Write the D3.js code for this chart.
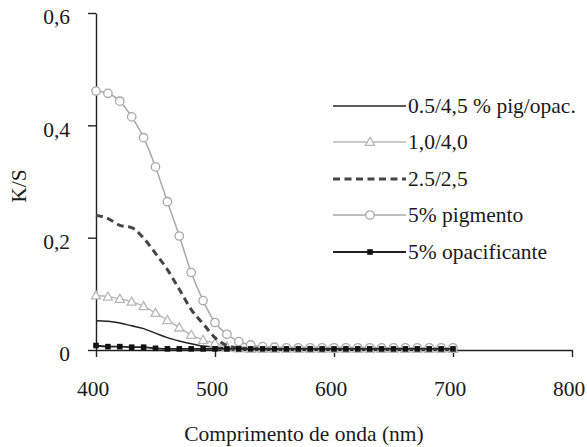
<!DOCTYPE html>
<html>
<head>
<meta charset="utf-8">
<script src="https://cdn.jsdelivr.net/npm/d3@7"></script>
<style>
  body { margin: 0; background: #fff; }
  svg { display: block; }
</style>
</head>
<body>
<div id="chart"></div>
<script>
// Wavelengths sampled every 10 nm
const wavelengths = d3.range(400, 701, 10);

// K/S values per formulation
const pig05 = [0.052, 0.051, 0.048, 0.043, 0.038, 0.030, 0.022, 0.016, 0.011, 0.007, 0.005, 0.004,
  0.003, 0.003, 0.003, 0.003, 0.003, 0.003, 0.003, 0.003, 0.003, 0.003, 0.003, 0.003, 0.003, 0.003,
  0.003, 0.003, 0.003, 0.003, 0.003];
const pig10 = [0.097, 0.095, 0.091, 0.086, 0.078, 0.066, 0.053, 0.040, 0.027, 0.018, 0.012, 0.006,
  0.003, 0.002, 0.002, 0.002, 0.002, 0.002, 0.002, 0.002, 0.002, 0.002, 0.002, 0.002, 0.002, 0.002,
  0.002, 0.002, 0.002, 0.002, 0.002];
const pig25 = [0.240, 0.234, 0.222, 0.218, 0.199, 0.172, 0.143, 0.108, 0.072, 0.047, 0.022, 0.008,
  0.004, 0.003, 0.003, 0.003, 0.003, 0.003, 0.003, 0.003, 0.003, 0.003, 0.003, 0.003, 0.003, 0.003,
  0.003, 0.003, 0.003, 0.003, 0.003];
const pig50 = [0.461, 0.457, 0.443, 0.415, 0.378, 0.326, 0.264, 0.203, 0.138, 0.088, 0.049, 0.028,
  0.015, 0.009, 0.006, 0.005, 0.004, 0.004, 0.004, 0.004, 0.004, 0.004, 0.004, 0.004, 0.004, 0.004,
  0.004, 0.004, 0.004, 0.004, 0.004];
const opac50 = [0.008, 0.006, 0.006, 0.005, 0.005, 0.003, 0.002, 0.002, 0.002, 0.002, 0.002, 0.002,
  0.002, 0.002, 0.002, 0.002, 0.002, 0.002, 0.002, 0.002, 0.002, 0.002, 0.002, 0.002, 0.002, 0.002,
  0.002, 0.002, 0.002, 0.002, 0.002];

const seriesNames = ["0.5/4,5 % pig/opac.", "1,0/4,0", "2.5/2,5", "5% pigmento", "5% opacificante"];
const xTicks = [400, 500, 600, 700, 800];
const yTicks = [0, 0.2, 0.4, 0.6];
const yTickLabels = ["0", "0,2", "0,4", "0,6"];

const series = [
  { name: seriesNames[0], values: pig05, color: "#222222", width: 1.5, dash: null, marker: null },
  { name: seriesNames[1], values: pig10, color: "#b8b8b8", width: 1.4, dash: null, marker: "triangle" },
  { name: seriesNames[2], values: pig25, color: "#444444", width: 3, dash: "7,4.5", marker: null },
  { name: seriesNames[3], values: pig50, color: "#a8a8a8", width: 1.5, dash: null, marker: "circle" },
  { name: seriesNames[4], values: opac50, color: "#222222", width: 1.8, dash: null, marker: "square" }
];

const FONT = "Liberation Serif";
const FS = 21.5;
const W = 587, H = 447;
const svg = d3.select("#chart").append("svg").attr("width", W).attr("height", H)
  .attr("font-family", FONT);

const x = d3.scaleLinear().domain([400, 800]).range([96, 572]);
const y = d3.scaleLinear().domain([0, 0.6]).range([350, 13]);

// Axes
const xAxis = svg.append("g").attr("transform", `translate(0,${y(0)})`)
  .call(d3.axisBottom(x).tickValues(xTicks).tickSize(7).tickPadding(24).tickSizeOuter(0));
const yAxis = svg.append("g").attr("transform", `translate(${x(400)},0)`)
  .call(d3.axisLeft(y).tickValues(yTicks).tickSize(8).tickPadding(18).tickSizeOuter(0)
    .tickFormat((d, i) => yTickLabels[i]));
[xAxis, yAxis].forEach(g => {
  g.attr("font-family", FONT).attr("font-size", FS);
  g.select(".domain").attr("stroke", "#222").attr("stroke-width", 1.4);
  g.selectAll(".tick line").attr("stroke", "#222").attr("stroke-width", 1.4);
  g.selectAll(".tick text").attr("font-family", FONT).attr("font-size", FS).attr("fill", "#1a1a1a");
});
xAxis.selectAll(".tick text").attr("dx", -3.5);
yAxis.selectAll(".tick text").attr("dy", "0.5em");

// Axis titles
svg.append("text").attr("x", 304).attr("y", 441).attr("text-anchor", "middle")
  .attr("font-family", FONT).attr("font-size", FS).attr("fill", "#1a1a1a")
  .text("Comprimento de onda (nm)");
svg.append("text").attr("transform", "translate(26,186) rotate(-90)")
  .attr("text-anchor", "middle").attr("font-family", FONT).attr("font-size", FS)
  .attr("fill", "#1a1a1a").text("K/S");

function drawMarker(g, type, cx, cy, color) {
  if (type === "circle") {
    g.append("circle").attr("cx", cx).attr("cy", cy).attr("r", 4.2)
      .attr("fill", "#fff").attr("stroke", color).attr("stroke-width", 1.3);
  } else if (type === "triangle") {
    const s = 4.6;
    g.append("path")
      .attr("d", `M${cx},${cy - s} L${cx + s},${cy + s * 0.75} L${cx - s},${cy + s * 0.75}Z`)
      .attr("fill", "#fff").attr("stroke", color).attr("stroke-width", 1.3);
  } else if (type === "square") {
    g.append("rect").attr("x", cx - 2.8).attr("y", cy - 2.8).attr("width", 5.6).attr("height", 5.6)
      .attr("fill", "#111");
  }
}

const line = d3.line()
  .x((d, i) => x(wavelengths[i]))
  .y(d => y(d))
  .curve(d3.curveMonotoneX);

const plot = svg.append("g");
series.forEach(s => {
  const g = plot.append("g");
  g.append("path").attr("d", line(s.values)).attr("fill", "none")
    .attr("stroke", s.color).attr("stroke-width", s.width)
    .attr("stroke-dasharray", s.dash);
  if (s.marker) {
    s.values.forEach((v, i) => drawMarker(g, s.marker, x(wavelengths[i]), y(v), s.color));
  }
});

// Legend
const legend = svg.append("g");
const legendY = [106, 142, 179, 215, 252];
series.forEach((s, i) => {
  const ly = legendY[i];
  legend.append("line").attr("x1", 333).attr("x2", 406).attr("y1", ly).attr("y2", ly)
    .attr("stroke", s.color).attr("stroke-width", s.width).attr("stroke-dasharray", s.dash);
  if (s.marker) drawMarker(legend, s.marker, 370, ly, s.color);
  legend.append("text").attr("x", 408).attr("y", ly + 7).attr("font-family", FONT)
    .attr("font-size", FS).attr("fill", "#1a1a1a").text(s.name);
});
</script>
</body>
</html>
